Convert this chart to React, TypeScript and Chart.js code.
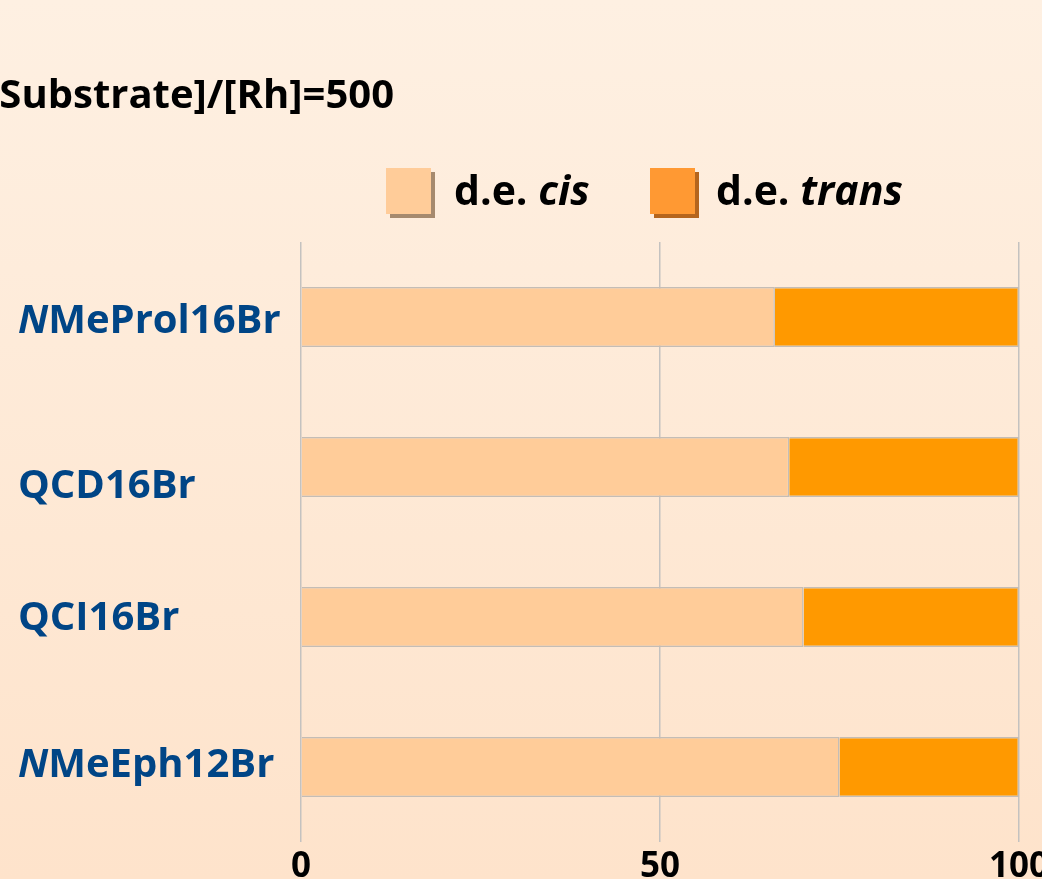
import React, { useEffect, useRef } from "react";
import { Chart, registerables } from "chart.js";

Chart.register(...registerables);

const categories = ["NMeProl16Br", "QCD16Br", "QCI16Br", "NMeEph12Br"];
const italicPrefixes = ["N", "", "", "N"];
const cisValues = [66, 68, 70, 75];
const transValues = [34, 32, 30, 25];
const xTickValues = [0, 50, 100];
const seriesLabels = ["d.e. ", "d.e. "];
const seriesItalic = ["cis", "trans"];
const titleText = "[Substrate]/[Rh]=500";

const FONT = "'Open Sans', 'DejaVu Sans', sans-serif";
const labelDy = [5, 20, 2, -1];

const overlayPlugin = {
  id: "overlay",
  afterDraw(chart: any) {
    const ctx = chart.ctx as CanvasRenderingContext2D;
    ctx.save();
    // Title
    ctx.fillStyle = "#000000";
    ctx.font = `bold 40px ${FONT}`;
    ctx.textAlign = "right";
    ctx.textBaseline = "middle";
    ctx.fillText(titleText, 394, 97);

    // Legend
    const legend = [
      { x: 386, fill: "#FFCC99", shadow: "#A68A6E", textX: 454 },
      { x: 650, fill: "#FF9933", shadow: "#B5651D", textX: 716 },
    ];
    legend.forEach((l, i) => {
      ctx.fillStyle = l.shadow;
      ctx.fillRect(l.x + 4, 172, 45, 46);
      ctx.fillStyle = l.fill;
      ctx.fillRect(l.x, 168, 45, 46);
      ctx.textAlign = "left";
      ctx.fillStyle = "#000000";
      ctx.font = `bold 41px ${FONT}`;
      ctx.fillText(seriesLabels[i], l.textX, 193);
      const w = ctx.measureText(seriesLabels[i]).width;
      ctx.font = `italic bold 41px ${FONT}`;
      ctx.fillText(seriesItalic[i], l.textX + w, 193);
    });

    // Category labels
    const yScale = chart.scales.y;
    categories.forEach((cat, i) => {
      const y = yScale.getPixelForValue(i) + labelDy[i];
      const pre = italicPrefixes[i];
      const rest = cat.slice(pre.length);
      let x = 18;
      ctx.fillStyle = "#004586";
      ctx.textAlign = "left";
      if (pre) {
        ctx.font = `italic bold 40px ${FONT}`;
        ctx.fillText(pre, x, y);
        x += ctx.measureText(pre).width;
      }
      ctx.font = `bold 40px ${FONT}`;
      ctx.fillText(rest, x, y);
    });
    ctx.restore();
  },
};

export default function App() {
  const ref = useRef<HTMLCanvasElement | null>(null);
  useEffect(() => {
    document.body.style.margin = "0";
    const chart = new Chart(ref.current as HTMLCanvasElement, {
      type: "bar",
      data: {
        labels: categories,
        datasets: [
          {
            label: "d.e. cis",
            data: cisValues,
            backgroundColor: "#FFCC99",
            borderColor: "#C4BDB6",
            borderWidth: 1.5,
            categoryPercentage: 0.8,
            barPercentage: 0.5,
          },
          {
            label: "d.e. trans",
            data: transValues,
            backgroundColor: "#FF9900",
            borderColor: "#C4BDB6",
            borderWidth: 1.5,
            categoryPercentage: 0.8,
            barPercentage: 0.5,
          },
        ],
      },
      options: {
        indexAxis: "y",
        responsive: false,
        animation: false,
        layout: { padding: { left: 301, right: 23, top: 242, bottom: 0 } },
        plugins: { legend: { display: false }, title: { display: false }, tooltip: { enabled: false } },
        scales: {
          x: {
            stacked: true,
            min: 0,
            max: 100,
            afterBuildTicks: (s: any) => {
              s.ticks = xTickValues.map((v) => ({ value: v }));
            },
            afterFit: (s: any) => {
              s.height = 37;
              s.paddingLeft = 0;
              s.paddingRight = 0;
            },
            grid: { color: "#C4C2C0", lineWidth: 1.5, drawTicks: false },
            border: { display: false },
            ticks: {
              padding: 4,
              color: "#000000",
              font: { family: FONT, size: 35, weight: "bold" },
              maxRotation: 0,
            },
          },
          y: { stacked: true, display: false },
        },
      },
      plugins: [overlayPlugin],
    } as any);
    return () => chart.destroy();
  }, []);
  return (
    <div
      style={{
        position: "fixed",
        left: 0,
        top: 0,
        width: 1042,
        height: 879,
        background: "linear-gradient(180deg, #FEF0E2 0%, #FEE3CB 100%)",
      }}
    >
      <canvas ref={ref} width={1042} height={879} />
    </div>
  );
}
